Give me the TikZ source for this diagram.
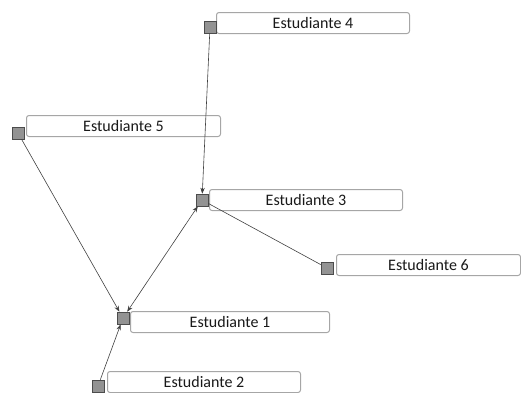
\documentclass[tikz,border=0pt]{standalone}
\usepackage{fontspec}
\setmainfont{Carlito}
\usetikzlibrary{arrows.meta}

\tikzset{
  tag/.style={draw=gray!70, fill=white, rounded corners=2.5pt, line width=1pt,
    minimum height=21pt, inner sep=0pt, anchor=north west,
    font=\fontsize{16}{18}\selectfont, text=black!90},
  handle/.style={draw=black!70, fill=gray!85, minimum size=12pt, inner sep=0pt,
    line width=0.6pt},
  link/.style={draw=black!75, line width=0.6pt},
  tip/.style={-{Stealth[length=6pt,width=4.5pt]}}
}

\begin{document}
\begin{tikzpicture}[x=1pt,y=-1pt]
    \useasboundingbox (0,0) rectangle (521,392);

    % cajas de los estudiantes
    \node[tag, minimum width=193pt] (e4) at (216,12)  {Estudiante 4};
    \node[tag, minimum width=194pt] (e5) at (26,115)  {Estudiante 5};
    \node[tag, minimum width=193pt] (e3) at (209,189) {Estudiante 3};
    \node[tag, minimum width=184pt] (e6) at (336,254) {Estudiante 6};
    \node[tag, minimum width=199pt] (e1) at (130,311) {Estudiante 1};
    \node[tag, minimum width=193pt] (e2) at (107,371) {Estudiante 2};

    % cuadritos
    \node[handle] (s4) at (210,27)  {};
    \node[handle] (s5) at (18,133)  {};
    \node[handle] (s3) at (202,200) {};
    \node[handle] (s6) at (327,268) {};
    \node[handle] (s1) at (123,318) {};
    \node[handle] (s2) at (98,386)  {};

    % relaciones
    \draw[link,tip] (s4) -- (s3);
    \draw[link,tip] (s5) -- (s1);
    \draw[link,{Stealth[length=6pt,width=4.5pt]}-{Stealth[length=6pt,width=4.5pt]}] (s1) -- (s3);
    \draw[link,tip] (s2) -- (s1);
    \draw[link] (s3) -- (s6);

\end{tikzpicture}
\end{document}
